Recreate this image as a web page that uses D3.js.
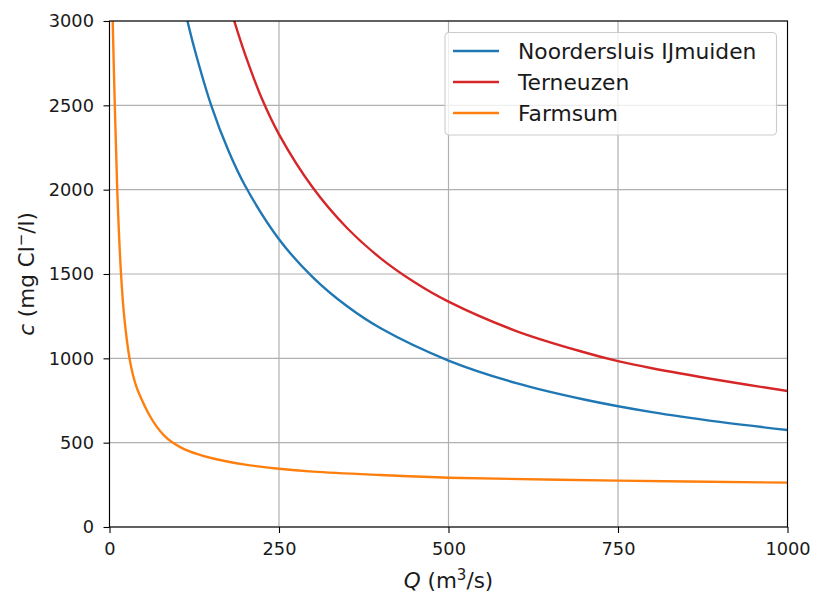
<!DOCTYPE html>
<html>
<head>
<meta charset="utf-8">
<script src="https://cdn.jsdelivr.net/npm/d3@7"></script>
<style>
  body { margin: 0; background: #fff; }
  svg { display: block; font-family: "DejaVu Sans", sans-serif; }
</style>
</head>
<body>
<svg width="813" height="594"></svg>
<script>
// values
var seriesNames = ["Noordersluis IJmuiden", "Terneuzen", "Farmsum"];
var seriesColors = ["#1f77b4", "#d62728", "#ff7f0e"];

var noordQ = [115, 125, 150, 175, 200, 250, 300, 350, 400, 500, 600, 700, 800, 900, 1000];
var noordC = [3000, 2840, 2500, 2235, 2023, 1706, 1480, 1310, 1178, 987, 853, 756, 681, 623, 575];

var terneuzenQ = [184, 200, 225, 250, 300, 350, 400, 450, 500, 600, 700, 750, 800, 900, 1000];
var terneuzenC = [3000, 2802, 2537, 2328, 2011, 1774, 1593, 1451, 1336, 1162, 1036, 983, 941, 870, 806];

var farmsumQ = [4.7, 7.8, 11.4, 17, 22, 29.5, 35, 40, 49.3, 60, 69.6, 80, 92.5, 110, 130, 150, 170, 200, 250, 300, 400, 500, 750, 1000];
var farmsumC = [3000, 2500, 2000, 1500, 1235, 1000, 895, 828, 740, 655, 595, 545, 502, 462, 432, 409, 391, 370, 345, 328, 308, 292, 275, 263];

var xTicks = [0, 250, 500, 750, 1000];
var yTicks = [0, 500, 1000, 1500, 2000, 2500, 3000];

var drawChart = function() {
    let svg = d3.select("svg");

    let margin = {
        top:    21,
        right:  25.5,
        bottom: 67,
        left:   109.5
    };
    let plotWidth = 813 - margin.left - margin.right;
    let plotHeight = 594 - margin.top - margin.bottom;

    let xScale = d3.scaleLinear().domain([0, 1000]).range([0, plotWidth]);
    let yScale = d3.scaleLinear().domain([0, 3000]).range([plotHeight, 0]);

    let plot = svg.append("g")
        .attr("id", "plot")
        .attr("transform", "translate(" + margin.left + "," + margin.top + ")");

    plot.append("clipPath").attr("id", "clip")
        .append("rect").attr("width", plotWidth).attr("height", plotHeight);

    // grid
    plot.append("g").selectAll("line").data(xTicks).enter().append("line")
        .attr("x1", d => xScale(d)).attr("x2", d => xScale(d))
        .attr("y1", 0).attr("y2", plotHeight)
        .attr("stroke", "#b0b0b0").attr("stroke-width", 1.2);
    plot.append("g").selectAll("line").data(yTicks).enter().append("line")
        .attr("y1", d => yScale(d)).attr("y2", d => yScale(d))
        .attr("x1", 0).attr("x2", plotWidth)
        .attr("stroke", "#b0b0b0").attr("stroke-width", 1.2);

    // curves
    let series = [
        { name: seriesNames[0], color: seriesColors[0], q: noordQ, c: noordC },
        { name: seriesNames[1], color: seriesColors[1], q: terneuzenQ, c: terneuzenC },
        { name: seriesNames[2], color: seriesColors[2], q: farmsumQ, c: farmsumC }
    ];
    let line = d3.line()
        .x(d => xScale(d[0]))
        .y(d => yScale(d[1]))
        .curve(d3.curveCatmullRom.alpha(0.5));

    plot.append("g").attr("clip-path", "url(#clip)")
        .selectAll("path").data(series).enter().append("path")
        .attr("d", s => line(d3.zip(s.q, s.c)))
        .attr("fill", "none")
        .attr("stroke", s => s.color)
        .attr("stroke-width", 2.4)
        .attr("stroke-linejoin", "round")
        .attr("stroke-linecap", "square");

    // axes
    let xAxis = d3.axisBottom(xScale).tickValues(xTicks).tickSize(6).tickPadding(9).tickFormat(d3.format("d"));
    let yAxis = d3.axisLeft(yScale).tickValues(yTicks).tickSize(6).tickPadding(9.5).tickFormat(d3.format("d"));

    let xGroup = plot.append("g").attr("id", "x-axis")
        .attr("transform", "translate(0," + plotHeight + ")")
        .call(xAxis);
    let yGroup = plot.append("g").attr("id", "y-axis").call(yAxis);
    [xGroup, yGroup].forEach(g => {
        g.select(".domain").remove();
        g.selectAll(".tick line").attr("stroke", "#000").attr("stroke-width", 1.1);
        g.selectAll(".tick text")
            .attr("fill", "#1a1a1a")
            .style("font-family", "DejaVu Sans")
            .style("font-size", "17.8px");
    });

    // frame
    plot.append("rect")
        .attr("width", plotWidth).attr("height", plotHeight)
        .attr("fill", "none").attr("stroke", "#000").attr("stroke-width", 1.1);

    // legend
    let legend = plot.append("g").attr("id", "legend")
        .attr("transform", "translate(" + (445 - margin.left) + "," + (32.5 - margin.top) + ")");
    legend.append("rect")
        .attr("width", 331.5).attr("height", 102.5)
        .attr("rx", 4).attr("ry", 4)
        .attr("fill", "#fff").attr("fill-opacity", 0.8)
        .attr("stroke", "#cccccc").attr("stroke-width", 1.1);
    let rows = legend.selectAll("g.row").data(series).enter().append("g")
        .attr("class", "row")
        .attr("transform", (s, i) => "translate(0," + (18.5 + i * 31) + ")");
    rows.append("line")
        .attr("x1", 8).attr("x2", 54)
        .attr("stroke", s => s.color).attr("stroke-width", 2.4);
    rows.append("text")
        .attr("x", 73).attr("dy", "0.36em")
        .attr("fill", "#1a1a1a")
        .style("font-size", "21.8px")
        .text(s => s.name);

    // axis labels
    let xLabel = svg.append("text")
        .attr("x", margin.left + plotWidth / 2)
        .attr("y", 588)
        .attr("text-anchor", "middle")
        .attr("fill", "#1a1a1a")
        .style("font-size", "21.5px");
    xLabel.append("tspan").style("font-style", "italic").text("Q");
    xLabel.append("tspan").text(" (m");
    xLabel.append("tspan").attr("dy", -8.5).style("font-size", "15px").text("3");
    xLabel.append("tspan").attr("dy", 8.5).text("/s)");

    let yLabel = svg.append("text")
        .attr("transform", "translate(34," + (margin.top + plotHeight / 2) + ") rotate(-90)")
        .attr("text-anchor", "middle")
        .attr("fill", "#1a1a1a")
        .style("font-size", "21.5px");
    yLabel.append("tspan").style("font-style", "italic").text("c");
    yLabel.append("tspan").text(" (mg Cl");
    yLabel.append("tspan").attr("dy", -8.5).style("font-size", "15px").text("\u2212");
    yLabel.append("tspan").attr("dy", 8.5).text("/l)");
};

drawChart();
</script>
</body>
</html>
